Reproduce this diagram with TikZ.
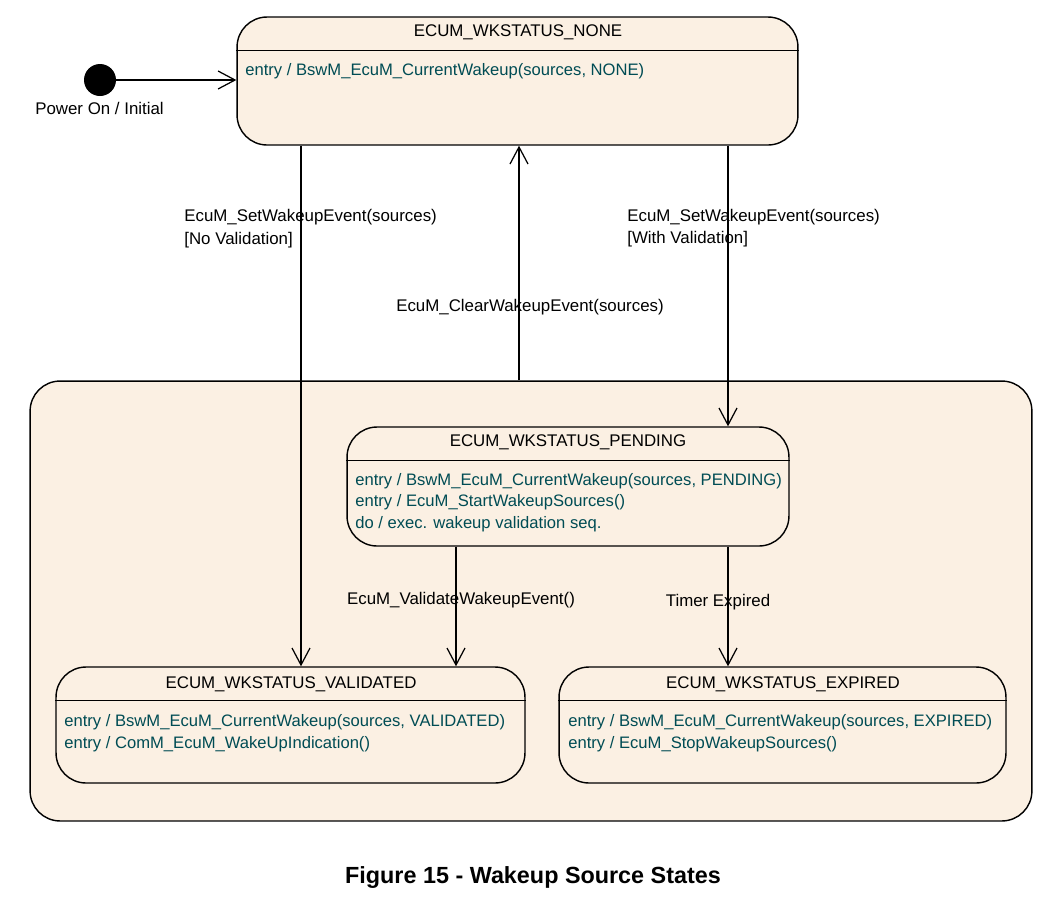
\documentclass[tikz,border=0pt]{standalone}
\usepackage{fontspec}
\setmainfont{Liberation Sans}
\usetikzlibrary{arrows.meta,positioning,calc}
\definecolor{stfill}{RGB}{251,240,227}
\definecolor{acttext}{RGB}{0,76,84}

\begin{document}
\begin{tikzpicture}[x=0.02cm,y=-0.02cm,
      every node/.style={font=\fontsize{9.6}{11.5}\selectfont,inner sep=0pt},
      state/.style={draw,fill=stfill,rounded corners=0.6cm,line width=0.8pt},
      initnode/.style={circle,fill=black,minimum size=0.64cm},
      act/.style={text=acttext,anchor=base west,font=\fontsize{9.45}{11.4}\selectfont},
      lbl/.style={anchor=base west},
      trans/.style={draw,line width=0.7pt,-{Straight Barb[length=3.4mm,width=3.6mm,line width=0.7pt]}}]
    \useasboundingbox (0,0) rectangle (1045,897);
    % composite and states
    \node[state,minimum width=20.04cm,minimum height=8.8cm] (comp) at (531,601) {};
    \node[state,minimum width=11.22cm,minimum height=2.56cm] (none) at (517.5,81) {};
    \node[state,minimum width=8.84cm,minimum height=2.38cm] (pend) at (568,486.5) {};
    \node[state,minimum width=9.38cm,minimum height=2.32cm] (val) at (290.5,725) {};
    \node[state,minimum width=8.94cm,minimum height=2.32cm] (exp) at (782.5,725) {};
    \foreach \s in {none,pend,val,exp} {
      \draw[line width=0.9pt] ($(\s.north west)+(0,34)$) -- ($(\s.north east)+(0,34)$);
    }
    % titles
    \node (noneT) at (518,32) {ECUM\_WKSTATUS\_NONE};
    \node (pendT) at (568,442) {ECUM\_WKSTATUS\_PENDING};
    \node (valT) at (291,684) {ECUM\_WKSTATUS\_VALIDATED};
    \node (expT) at (783,684) {ECUM\_WKSTATUS\_EXPIRED};
    % activities
    \node[act] (noneA1) at (245,75) {entry / BswM\_EcuM\_CurrentWakeup(sources, NONE)};
    \node[act] (pendA1) at (355,485) {entry / BswM\_EcuM\_CurrentWakeup(sources, PENDING)};
    \node[act] (pendA2) at (355,506.5) {entry / EcuM\_StartWakeupSources()};
    \node[act] (pendA3) at (355,528) {do / exec. wakeup validation seq.};
    \node[act] (valA1) at (64,726) {entry / BswM\_EcuM\_CurrentWakeup(sources, VALIDATED)};
    \node[act] (valA2) at (64,748) {entry / ComM\_EcuM\_WakeUpIndication()};
    \node[act] (expA1) at (568,726) {entry / BswM\_EcuM\_CurrentWakeup(sources, EXPIRED)};
    \node[act] (expA2) at (568,748) {entry / EcuM\_StopWakeupSources()};
    % initial
    \node[initnode] (init) at (100,80) {};
    \node (initL) at (99.5,108) {Power On / Initial};
    \draw[trans] (init) -- (none.west |- init);
    % transitions
    \coordinate (xNoVal) at (301,0);
    \coordinate (xClear) at (519,0);
    \coordinate (xWithVal) at (728,0);
    \coordinate (xValid) at (456,0);
    \draw[trans] (xNoVal |- none.south) -- (xNoVal |- val.north);
    \draw[trans] (xClear |- comp.north) -- (xClear |- none.south);
    \draw[trans] (xWithVal |- none.south) -- (xWithVal |- pend.north);
    \draw[trans] (xValid |- pend.south) -- (xValid |- val.north);
    \draw[trans] (xWithVal |- pend.south) -- (xWithVal |- exp.north);
    % transition labels
    \node[lbl] (noValL1) at (184,221) {EcuM\_SetWakeupEvent(sources)};
    \node[lbl] (noValL2) at (184,244) {[No Validation]};
    \node[lbl] (withValL1) at (627,221) {EcuM\_SetWakeupEvent(sources)};
    \node[lbl] (withValL2) at (627,243) {[With Validation]};
    \node (clearL) at (530,307) {EcuM\_ClearWakeupEvent(sources)};
    \node (validL) at (461,600) {EcuM\_ValidateWakeupEvent()};
    \node (timerL) at (718,602) {Timer Expired};
    % caption
    \node[font=\fontsize{13.3}{16}\selectfont\bfseries] (caption) at (533,877) {Figure 15 - Wakeup Source States};
  \end{tikzpicture}
\end{document}
